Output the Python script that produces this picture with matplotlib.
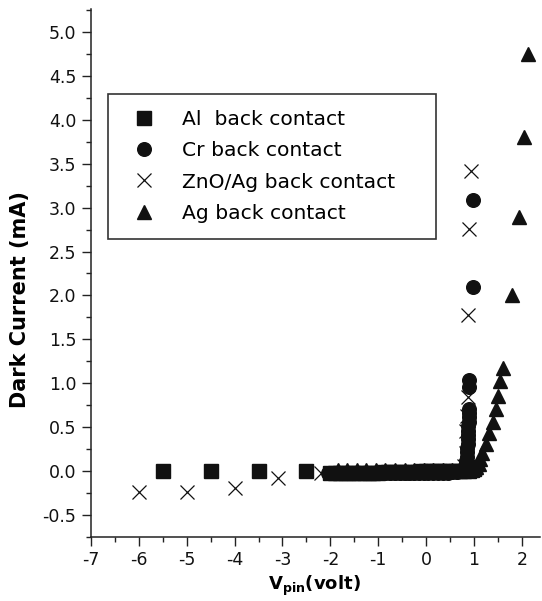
import matplotlib
matplotlib.use("Agg")
import matplotlib.pyplot as plt
from matplotlib.ticker import MultipleLocator, FormatStrFormatter

plt.rcParams['font.family'] = ['DejaVu Sans']
plt.rcParams['mathtext.fontset'] = 'dejavusans'
plt.rcParams['axes.unicode_minus'] = False

# ---- data ----
al_v = [-5.5, -4.5, -3.5, -2.5,
        -2.0, -1.9, -1.8, -1.7, -1.6, -1.5, -1.4, -1.3, -1.2, -1.1, -1.0,
        -0.9, -0.8, -0.7, -0.6, -0.5, -0.4, -0.3, -0.2, -0.1, 0.0,
        0.1, 0.2, 0.3, 0.4, 0.5, 0.6, 0.7, 0.8, 0.9, 0.95, 1.0, 1.02]
al_i = [0.0, 0.0, 0.0, 0.0,
        -0.02, -0.02, -0.02, -0.02, -0.02, -0.02, -0.02, -0.02, -0.02, -0.02, -0.02,
        -0.01, -0.01, -0.01, -0.01, -0.01, -0.01, -0.01, -0.01, 0.0, 0.0,
        0.0, 0.0, 0.0, 0.0, 0.0, 0.0, 0.0, 0.0, 0.0, 0.01, 0.02, 0.04]

cr_v = [-2.05, -1.95, -1.85, -1.75, -1.65, -1.55, -1.45, -1.35, -1.25, -1.15,
        -1.05, -0.95, -0.85, -0.75, -0.65, -0.55, -0.45, -0.35, -0.25, -0.15,
        -0.05, 0.05, 0.15, 0.25, 0.35, 0.45, 0.55, 0.65, 0.75, 0.8,
        0.82, 0.84, 0.85, 0.86, 0.86, 0.87, 0.87, 0.88, 0.88, 0.88, 0.89,
        0.89, 0.89, 0.89, 0.89, 0.89, 0.97, 0.99]
cr_i = [-0.02, -0.02, -0.02, -0.02, -0.02, -0.02, -0.02, -0.02, -0.02, -0.02,
        -0.02, -0.02, -0.02, -0.02, -0.02, -0.02, -0.02, -0.02, -0.02, -0.02,
        -0.02, -0.02, -0.02, -0.02, -0.02, -0.02, -0.01, -0.01, 0.0, 0.02,
        0.06, 0.11, 0.16, 0.21, 0.26, 0.31, 0.36, 0.41, 0.46, 0.51, 0.56,
        0.61, 0.66, 0.71, 0.96, 1.04, 2.10, 3.09]

zno_v = [-6.0, -5.0, -4.0, -3.1, -2.2,
         -2.0, -1.8, -1.6, -1.4, -1.2, -1.0, -0.8, -0.6, -0.4, -0.2, 0.0,
         0.2, 0.4, 0.6, 0.8, 0.83, 0.84, 0.86, 0.88, 0.885, 0.905, 0.935]
zno_i = [-0.235, -0.235, -0.20, -0.08, -0.02,
         -0.02, -0.02, -0.02, -0.02, -0.02, -0.02, -0.02, -0.02, -0.02, -0.02, -0.02,
         -0.01, -0.01, 0.0, 0.05, 0.2, 0.45, 0.62, 0.84, 1.78, 2.76, 3.42]

ag_v = [-1.85, -1.65, -1.45, -1.25, -1.05, -0.85, -0.65, -0.45, -0.25, -0.05,
        0.15, 0.35, 0.55, 0.75, 0.95, 1.05, 1.10, 1.13, 1.17, 1.25, 1.32,
        1.40, 1.46, 1.51, 1.55, 1.60, 1.79, 1.94, 2.05, 2.13]
ag_i = [0.01, 0.01, 0.01, 0.01, 0.01, 0.01, 0.01, 0.01, 0.01, 0.01,
        0.01, 0.01, 0.01, 0.01, 0.02, 0.04, 0.08, 0.13, 0.20, 0.31, 0.43,
        0.56, 0.71, 0.85, 1.02, 1.17, 2.00, 2.89, 3.81, 4.75]

labels = ['Al  back contact', 'Cr back contact', 'ZnO/Ag back contact', 'Ag back contact']

# ---- figure ----
fig = plt.figure(figsize=(5.42, 6.01), dpi=100)
ax = fig.add_axes([91/542, 1 - 536.7/601, (540 - 91)/542, (536.7 - 9.3)/601])

mk = '#111111'
ax.plot(al_v, al_i, linestyle='none', marker='s', ms=9.5, color=mk, mec=mk, label=labels[0])
ax.plot(cr_v, cr_i, linestyle='none', marker='o', ms=9.8, color=mk, mec=mk, label=labels[1])
ax.plot(zno_v, zno_i, linestyle='none', marker='x', ms=9.5, mew=0.9, color=mk, label=labels[2])
ax.plot(ag_v, ag_i, linestyle='none', marker='^', ms=10.5, color=mk, mec=mk, label=labels[3])

ax.set_xlim(-7, 2.38)
ax.set_ylim(-0.75, 5.26)
ax.xaxis.set_major_locator(MultipleLocator(1))
ax.xaxis.set_minor_locator(MultipleLocator(0.5))
ax.yaxis.set_major_locator(MultipleLocator(0.5))
ax.yaxis.set_minor_locator(MultipleLocator(0.25))
ax.yaxis.set_major_formatter(FormatStrFormatter('%.1f'))

for s in ['top', 'right']:
    ax.spines[s].set_visible(False)
for s in ['left', 'bottom']:
    ax.spines[s].set_linewidth(1.1)
    ax.spines[s].set_color('#222222')

ax.tick_params(which='major', direction='out', length=6.5, width=1.0, labelsize=12.5,
               pad=4, colors='#222222', labelcolor='#111111')
ax.tick_params(which='minor', direction='out', length=3.6, width=1.0, colors='#222222')

ax.set_xlabel(r'$\mathbf{V_{pin}}$(volt)', fontsize=13, fontweight='bold')
ax.set_ylabel('Dark Current (mA)', fontsize=15, fontweight='bold')
ax.xaxis.set_label_coords(0.497, -0.07)
ax.yaxis.set_label_coords(-0.135, 0.45)

leg = ax.legend(loc='upper left', bbox_to_anchor=(0.0379, 0.5683, 0.7305, 0.2711),
                mode='expand', fontsize=14.6, frameon=True, fancybox=False,
                borderpad=0.8, handlelength=1.95, handletextpad=0.9,
                labelspacing=0.6, numpoints=1, borderaxespad=0)
leg.get_frame().set_edgecolor('#333333')
leg.get_frame().set_linewidth(1.2)
leg.get_frame().set_alpha(1)

fig.savefig('out.png', dpi=100)
